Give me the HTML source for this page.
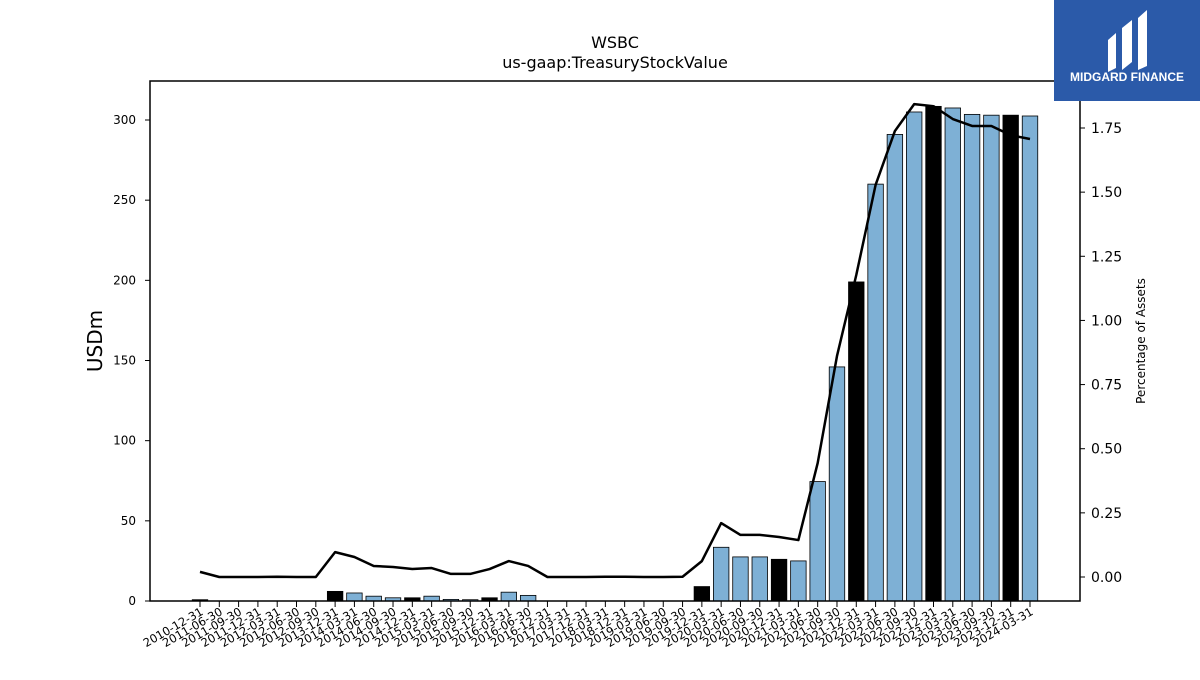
<!DOCTYPE html>
<html><head><meta charset="utf-8"><style>
body{margin:0;background:#fff;font-family:"Liberation Sans","DejaVu Sans",sans-serif;}
svg text{font-family:"DejaVu Sans","Liberation Sans",sans-serif;}
</style></head><body>
<svg id="chart" width="1200" height="675" xmlns="http://www.w3.org/2000/svg">
<rect width="1200" height="675" fill="#fff"/>
<text x="615" y="48" font-size="16" text-anchor="middle">WSBC</text>
<text x="615" y="68" font-size="16" text-anchor="middle">us-gaap:TreasuryStockValue</text>
<g id="bars"></g>
<g id="line"></g>
<g id="axes"></g>
<rect x="150" y="81" width="930" height="520" fill="none" stroke="#000" stroke-width="1.5"/>
<text transform="translate(102,341) rotate(-90)" font-size="20" text-anchor="middle">USDm</text>
<text transform="translate(1145,341) rotate(-90)" font-size="12" text-anchor="middle">Percentage of Assets</text>
<g>
<rect x="1054" y="0" width="146" height="101" fill="#2b5aa9"/>
<path d="M1108 40 L1116 33 L1116 68 L1108 72 Z M1122 28 L1132 20 L1132 62 L1122 70 Z M1138 18 L1147 10 L1147 66 L1138 70 Z" fill="#fff"/>
<text x="1127" y="81" font-size="12" font-weight="bold" fill="#fff" text-anchor="middle" style="font-family:'Liberation Sans',sans-serif">MIDGARD FINANCE</text>
</g>
</svg>
<script>
const categories=["2010-12-31","2011-06-30","2011-09-30","2011-12-31","2012-03-31","2012-06-30","2012-09-30","2013-12-31","2014-03-31","2014-06-30","2014-09-30","2014-12-31","2015-03-31","2015-06-30","2015-09-30","2015-12-31","2016-03-31","2016-06-30","2016-12-31","2017-03-31","2017-12-31","2018-03-31","2018-12-31","2019-03-31","2019-06-30","2019-09-30","2019-12-31","2020-03-31","2020-06-30","2020-09-30","2020-12-31","2021-03-31","2021-06-30","2021-09-30","2021-12-31","2022-03-31","2022-06-30","2022-09-30","2022-12-31","2023-03-31","2023-06-30","2023-09-30","2023-12-31","2024-03-31"];
const treasuryValues=[0.8,0,0,0,0,0,0,6,5,3,2,2,3,1,0.8,2,5.5,3.5,0,0,0,0,0,0,0,0,9,33.5,27.5,27.5,26,25,74.5,146,199,260,291,305,308.5,307.5,303.5,303,303,302.5];
const pctAssets=[0.02,0,0,0,0.001,0,0,0.097,0.078,0.043,0.039,0.031,0.035,0.012,0.012,0.031,0.062,0.043,0,0,0,0.001,0.001,0,0,0.001,0.062,0.21,0.164,0.164,0.156,0.144,0.444,0.861,1.177,1.528,1.738,1.843,1.835,1.785,1.758,1.758,1.722,1.707];
const leftTicks=[0,50,100,150,200,250,300];
const rightTicks=[0,0.25,0.5,0.75,1,1.25,1.5,1.75];
const NS="http://www.w3.org/2000/svg";
const x=i=>200+i*(1030-200)/(categories.length-1);
const yL=v=>601-v*(481/300);
const yR=v=>577-v*(449/1.75);
function mk(t,a,p){const e=document.createElementNS(NS,t);for(const k in a)e.setAttribute(k,a[k]);p.appendChild(e);return e;}
const bars=document.getElementById('bars'),line=document.getElementById('line'),axes=document.getElementById('axes');
const bw=15.5;
treasuryValues.forEach((v,i)=>{
 if(v<=0)return;
 const dec=categories[i].endsWith('12-31');
 const r=mk('rect',{x:x(i)-bw/2,y:yL(v),width:bw,height:601-yL(v),fill:dec?'#000':'#7eb0d5',stroke:'#000','stroke-width':0.8},bars);
 
 
});
const pl=mk('polyline',{points:pctAssets.map((v,i)=>x(i)+','+yR(v)).join(' '),fill:'none',stroke:'#000','stroke-width':2.5,'stroke-linejoin':'round'},line);


leftTicks.forEach(t=>{
 mk('line',{x1:145,x2:150,y1:yL(t),y2:yL(t),stroke:'#000'},axes);
 const tx=mk('text',{x:136,y:yL(t)+4,'font-size':12,'text-anchor':'end'},axes);tx.textContent=t;
 
 
});
rightTicks.forEach(t=>{
 mk('line',{x1:1080,x2:1085,y1:yR(t),y2:yR(t),stroke:'#000'},axes);
 const tx=mk('text',{x:1091,y:yR(t)+5,'font-size':14},axes);tx.textContent=t.toFixed(2);
 
 
});
categories.forEach((c,i)=>{
 mk('line',{x1:x(i),x2:x(i),y1:601,y2:607,stroke:'#000'},axes);
 const tx=mk('text',{transform:`translate(${x(i)+4},${614}) rotate(-30)`,'font-size':11.5,'text-anchor':'end'},axes);tx.textContent=c;
 
 
});
</script>
</body></html>
